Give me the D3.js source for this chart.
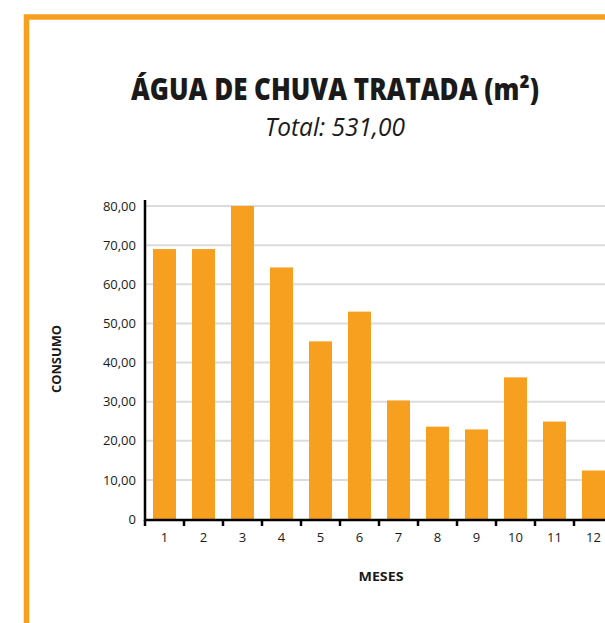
<!DOCTYPE html>
<html>
<meta charset="utf-8" />
<style>
  body { margin: 0; background: #fff; }
  text { font-family: "Open Sans", "Noto Sans", sans-serif; fill: #1a1a1a; }
</style>
<svg width="605" height="623"></svg>
<script src="https://d3js.org/d3.v7.min.js"></script>
<script>
  // data
  const months = ["1", "2", "3", "4", "5", "6", "7", "8", "9", "10", "11", "12"];
  const consumo = [69.0, 69.0, 80.0, 64.3, 45.4, 53.0, 30.3, 23.6, 22.9, 36.2, 24.9, 12.4];
  const yTicks = [0, 10, 20, 30, 40, 50, 60, 70, 80];
  const titleText = "ÁGUA DE CHUVA TRATADA (m²)";
  const totalText = "Total: 531,00";

  const orange = "#f7a020";
  const svg = d3.select("svg");

  // orange frame (open on the right and bottom)
  svg.append("path")
    .attr("d", "M26.5,623 V17 H605")
    .attr("fill", "none")
    .attr("stroke", orange)
    .attr("stroke-width", 5.5);

  // titles
  svg.append("text")
    .attr("x", 335).attr("y", 100)
    .attr("text-anchor", "middle")
    .attr("font-size", 30)
    .attr("font-weight", 800)
    .attr("textLength", 408)
    .attr("lengthAdjust", "spacingAndGlyphs")
    .text(titleText);

  svg.append("text")
    .attr("x", 335).attr("y", 136)
    .attr("text-anchor", "middle")
    .attr("font-size", 25)
    .attr("font-style", "italic")
    .attr("textLength", 140)
    .attr("lengthAdjust", "spacingAndGlyphs")
    .text(totalText);

  // scales
  const x = d3.scaleBand()
    .domain(months)
    .range([145, 145 + 39 * months.length])
    .paddingInner(0.41)
    .paddingOuter(0.205);
  const y = d3.scaleLinear().domain([0, 80]).range([519, 206]);

  // gridlines
  svg.append("g")
    .selectAll("line")
    .data(yTicks.filter(d => d > 0))
    .join("line")
    .attr("x1", 146).attr("x2", 605)
    .attr("y1", d => y(d)).attr("y2", d => y(d))
    .attr("stroke", "#dcdcdc")
    .attr("stroke-width", 2);

  // bars
  svg.append("g")
    .selectAll("rect")
    .data(consumo)
    .join("rect")
    .attr("x", (d, i) => x(months[i]))
    .attr("width", x.bandwidth())
    .attr("y", d => y(d))
    .attr("height", d => y(0) - y(d))
    .attr("fill", orange);

  // y axis labels
  const fmt = v => v === 0 ? "0" : d3.format(".2f")(v).replace(".", ",");
  const yAxis = svg.append("g")
    .attr("transform", "translate(145,0)")
    .call(d3.axisLeft(y).tickValues(yTicks).tickFormat(fmt).tickSize(0).tickPadding(9));
  yAxis.select(".domain").remove();
  yAxis.selectAll("text").attr("font-size", 13).attr("font-family", "'Open Sans', sans-serif").attr("fill", "#111");

  svg.append("line")
    .attr("x1", 145).attr("x2", 145)
    .attr("y1", 200).attr("y2", 521)
    .attr("stroke", "#000").attr("stroke-width", 2.5);

  // x axis
  const xAxis = svg.append("g")
    .attr("transform", "translate(0,519)")
    .call(d3.axisBottom(x).tickSize(0).tickPadding(14));
  xAxis.select(".domain").remove();
  xAxis.selectAll("text").attr("font-size", 13).attr("font-family", "'Open Sans', sans-serif").attr("fill", "#111");

  svg.append("line")
    .attr("x1", 144).attr("x2", 605)
    .attr("y1", 520).attr("y2", 520)
    .attr("stroke", "#000").attr("stroke-width", 2.5);

  // boundary ticks between months
  svg.append("g")
    .selectAll("line")
    .data(months)
    .join("line")
    .attr("x1", d => x(d) - x.step() * x.paddingOuter())
    .attr("x2", d => x(d) - x.step() * x.paddingOuter())
    .attr("y1", 520).attr("y2", 526)
    .attr("stroke", "#000").attr("stroke-width", 2.5);

  // axis titles
  svg.append("text")
    .attr("x", 381).attr("y", 581)
    .attr("text-anchor", "middle")
    .attr("font-size", 13)
    .attr("font-weight", 700)
    .attr("textLength", 45)
    .attr("lengthAdjust", "spacingAndGlyphs")
    .text("MESES");

  svg.append("text")
    .attr("transform", "translate(61,359) rotate(-90)")
    .attr("text-anchor", "middle")
    .attr("font-size", 12.5)
    .attr("font-weight", 700)
    .attr("textLength", 68)
    .attr("lengthAdjust", "spacingAndGlyphs")
    .text("CONSUMO");
</script>
</html>
